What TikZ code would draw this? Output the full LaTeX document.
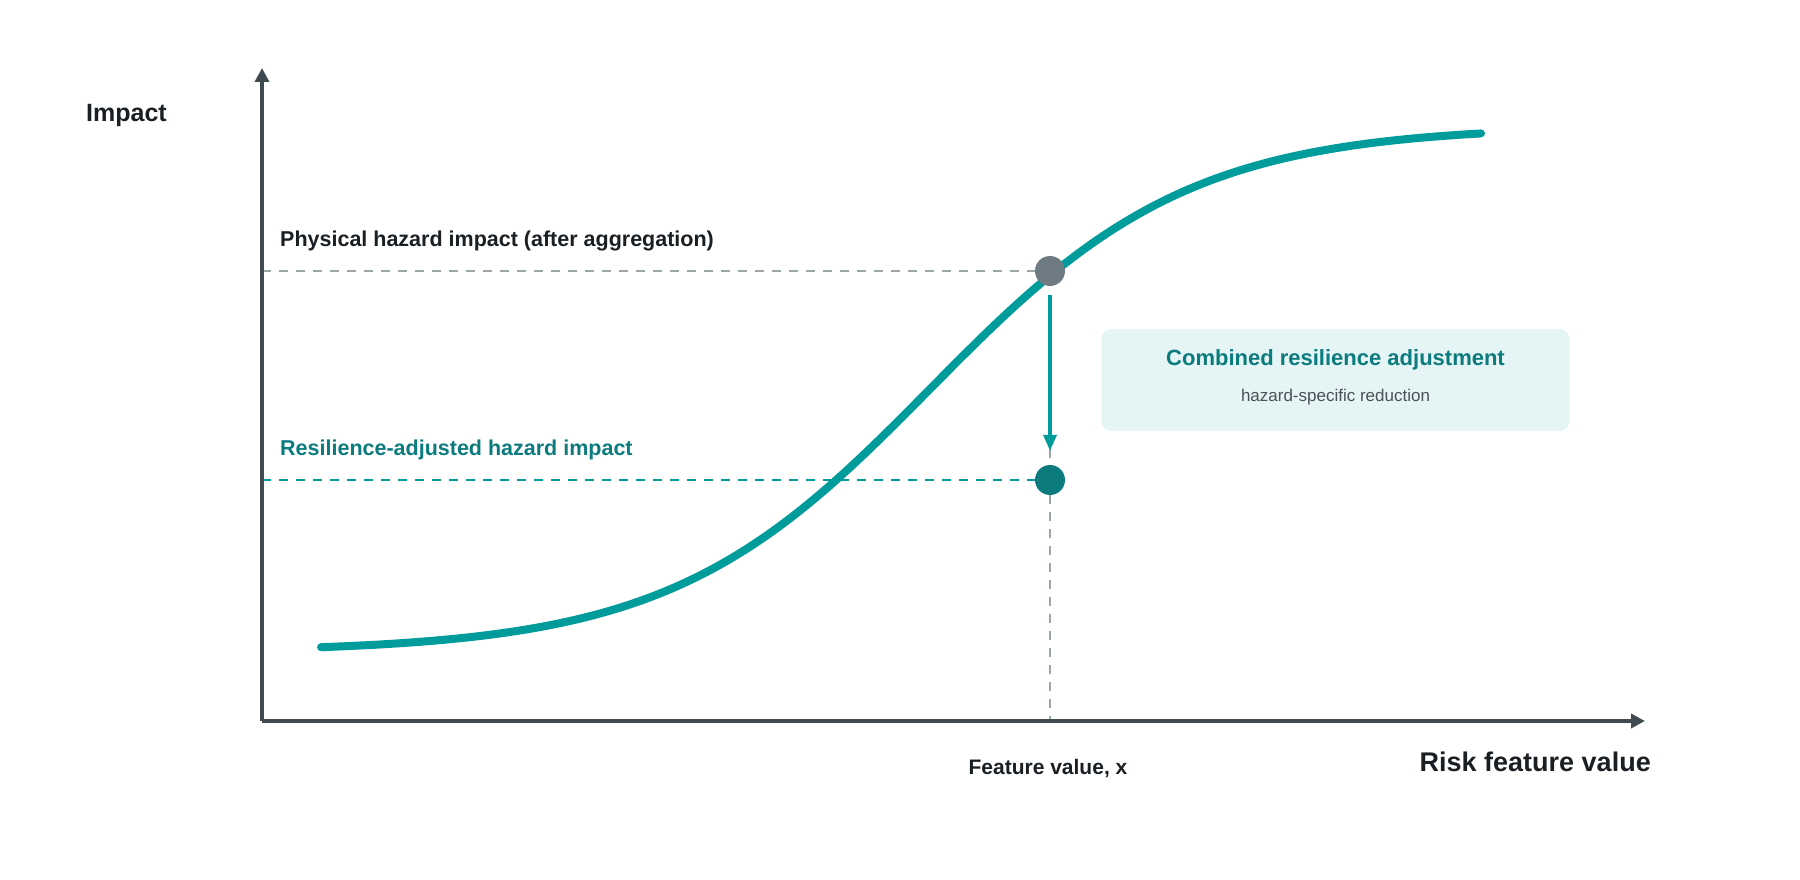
\documentclass[tikz,border=0pt]{standalone}
\usepackage{fontspec}
\setmainfont{Liberation Sans}
\usetikzlibrary{arrows.meta}
\definecolor{teal1}{HTML}{009C9C}
\definecolor{tealdk}{HTML}{0B7B7E}
\definecolor{axisc}{HTML}{3F4B50}
\definecolor{greyd}{HTML}{6F7B82}
\definecolor{dashg}{HTML}{9BA6A6}
\definecolor{boxf}{HTML}{E5F4F4}
\definecolor{txtc}{HTML}{1A1F24}
\definecolor{subc}{HTML}{4A5257}
\begin{document}
\begin{tikzpicture}[x=1pt,y=-1pt,
  axis/.style={draw=axisc,line width=4.5pt,-{Triangle[length=14pt,width=14pt]}},
  gdash/.style={draw=dashg,line width=2.5pt,dash pattern=on 9pt off 8pt},
  tdash/.style={draw=teal1,line width=2.5pt,dash pattern=on 9pt off 8pt},
  dot/.style={circle,inner sep=0pt,minimum size=30pt},
  lbl/.style={font=\bfseries,text=txtc,inner sep=0pt}]
\useasboundingbox (0,0) rectangle (1800,880);
\coordinate (O) at (262,721);
\coordinate (Ytop) at (262,68);
\coordinate (Xend) at (1645,721);
\coordinate (Yp) at (262,271);
\coordinate (Yr) at (262,480);
\coordinate (Xb) at (1050,721);
% curve
\draw[teal1,line width=8pt,line cap=round,domain=321:1481,samples=150,smooth]
  plot (\x,{652-526/(1+exp(-(\x-930)/130))});
% guides
\node[dot,fill=greyd] (P) at (1050,271) {};
\node[dot,fill=tealdk] (R) at (1050,480) {};
\draw[gdash] (Yp) -- (P.west);
\draw[tdash] (Yr) -- (R.west);
\draw[gdash] (R.south) -- (Xb);
\draw[gdash] ([yshift=16pt]R.north) -- (R.north);
\draw[teal1,line width=3.5pt,-{Triangle[length=16pt,width=13pt]}] ([yshift=-9pt]P.south) -- ([yshift=14pt]R.north);
% axes
\draw[axis] (O) -- (Ytop);
\draw[axis] (O) -- (Xend);
% box
\node[fill=boxf,rounded corners=10pt,minimum width=468pt,minimum height=102pt,inner sep=0pt] (B) at (1335.5,380) {};
\node[font=\bfseries\fontsize{22}{26}\selectfont,text=tealdk] (Bt) at (1335.5,360) {Combined resilience adjustment};
\node[font=\fontsize{17}{20}\selectfont,text=subc] (Bs) at (1335.5,397) {hazard-specific reduction};
% labels
\node[lbl,font=\bfseries\fontsize{25}{28}\selectfont,anchor=west] (Li) at (86,115) {Impact};
\node[lbl,font=\bfseries\fontsize{21.5}{25}\selectfont,anchor=west] (Lp) at (280,241) {Physical hazard impact (after aggregation)};
\node[lbl,font=\bfseries\fontsize{21.5}{25}\selectfont,anchor=west,text=tealdk] (Lr) at (280,450) {Resilience-adjusted hazard impact};
\node[lbl,font=\bfseries\fontsize{21}{24}\selectfont] (Lx) at (1048,769) {Feature value, x};
\node[lbl,font=\bfseries\fontsize{27}{30}\selectfont,anchor=east] (Lrf) at (1651,762) {Risk feature value};
\end{tikzpicture}
\end{document}
